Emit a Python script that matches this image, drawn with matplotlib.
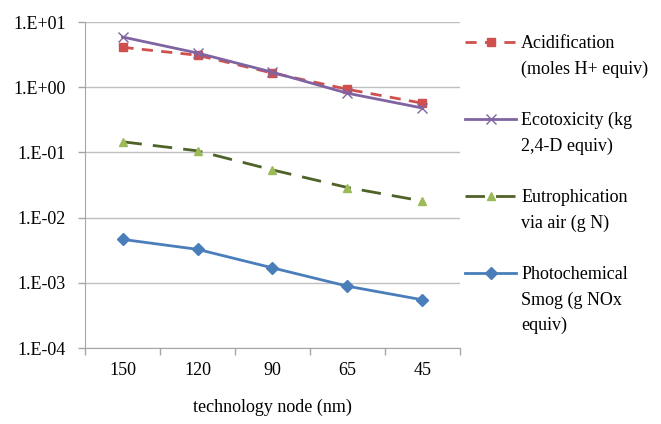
import matplotlib.pyplot as plt
import numpy as np
from matplotlib.lines import Line2D
from matplotlib.ticker import FixedLocator, FuncFormatter, NullFormatter

plt.rcParams['font.family'] = ['Liberation Serif', 'DejaVu Serif']

nodes = ['150', '120', '90', '65', '45']
acidification = [4.1, 3.1, 1.65, 0.93, 0.57]
ecotoxicity = [5.9, 3.35, 1.7, 0.81, 0.48]
eutrophication = [0.146, 0.106, 0.054, 0.029, 0.018]
smog = [0.00465, 0.00327, 0.0017, 0.00089, 0.00055]

fs = 13

fig = plt.figure(figsize=(6.61, 4.24), dpi=100)
ax = fig.add_axes([0.1286, 0.179, 0.5673, 0.769])

x = np.arange(len(nodes))
l1, = ax.plot(x, acidification, color='#D0504D', lw=2, dashes=(4, 3),
              marker='s', ms=6, label='Acidification')
l2, = ax.plot(x, ecotoxicity, color='#8064A2', lw=2,
              marker='x', ms=7, mew=1, label='Ecotoxicity (kg')
l3, = ax.plot(x, eutrophication, color='#4F6228', lw=2, dashes=(7, 4),
              marker='^', ms=6, mfc='#9BBB59', mec='#9BBB59', label='Eutrophication')
l4, = ax.plot(x, smog, color='#4A7EBB', lw=2,
              marker='D', ms=6, label='Photochemical')

ax.set_yscale('log')
ax.set_ylim(1e-4, 10)
ax.set_xlim(-0.5, len(nodes) - 0.5)

ax.yaxis.set_major_locator(FixedLocator([1e-4, 1e-3, 1e-2, 1e-1, 1, 10]))
ax.yaxis.set_minor_locator(FixedLocator([]))
ax.yaxis.set_major_formatter(FuncFormatter(lambda v, p: "1.E%+03d" % int(round(np.log10(v)))))
ax.grid(axis='y', color='#BFBFBF', lw=1)
ax.set_axisbelow(True)

ax.set_xticks(x)
ax.set_xticklabels(nodes)
ax.xaxis.set_minor_locator(FixedLocator(np.arange(-0.5, len(nodes), 1.0)))
ax.xaxis.set_minor_formatter(NullFormatter())
ax.tick_params(axis='x', which='major', length=0, pad=10, labelsize=fs)
ax.tick_params(axis='x', which='minor', length=5, color='#A6A6A6', width=1)
ax.tick_params(axis='y', length=5, color='#A6A6A6', width=1, labelsize=fs, pad=9)

for s in ['top', 'right']:
    ax.spines[s].set_visible(False)
for s in ['left', 'bottom']:
    ax.spines[s].set_color('#A6A6A6')

ax.set_xlabel('technology node (nm)', fontsize=fs, labelpad=14)

blank = Line2D([], [], color='none')
handles = [l1, blank, blank, l2, blank, blank, l3, blank, blank, l4, blank, blank]
labels = ['Acidification', '(moles H+ equiv)', '',
          'Ecotoxicity (kg', '2,4-D equiv)', '',
          'Eutrophication', 'via air (g N)', '',
          'Photochemical', 'Smog (g NOx', 'equiv)']
fig.legend(handles, labels, loc='upper left', bbox_to_anchor=(0.693, 0.934),
           frameon=False, fontsize=fs, handlelength=2.8, handletextpad=0.3,
           labelspacing=0.47, borderaxespad=0)

fig.savefig('out.png', dpi=100)
